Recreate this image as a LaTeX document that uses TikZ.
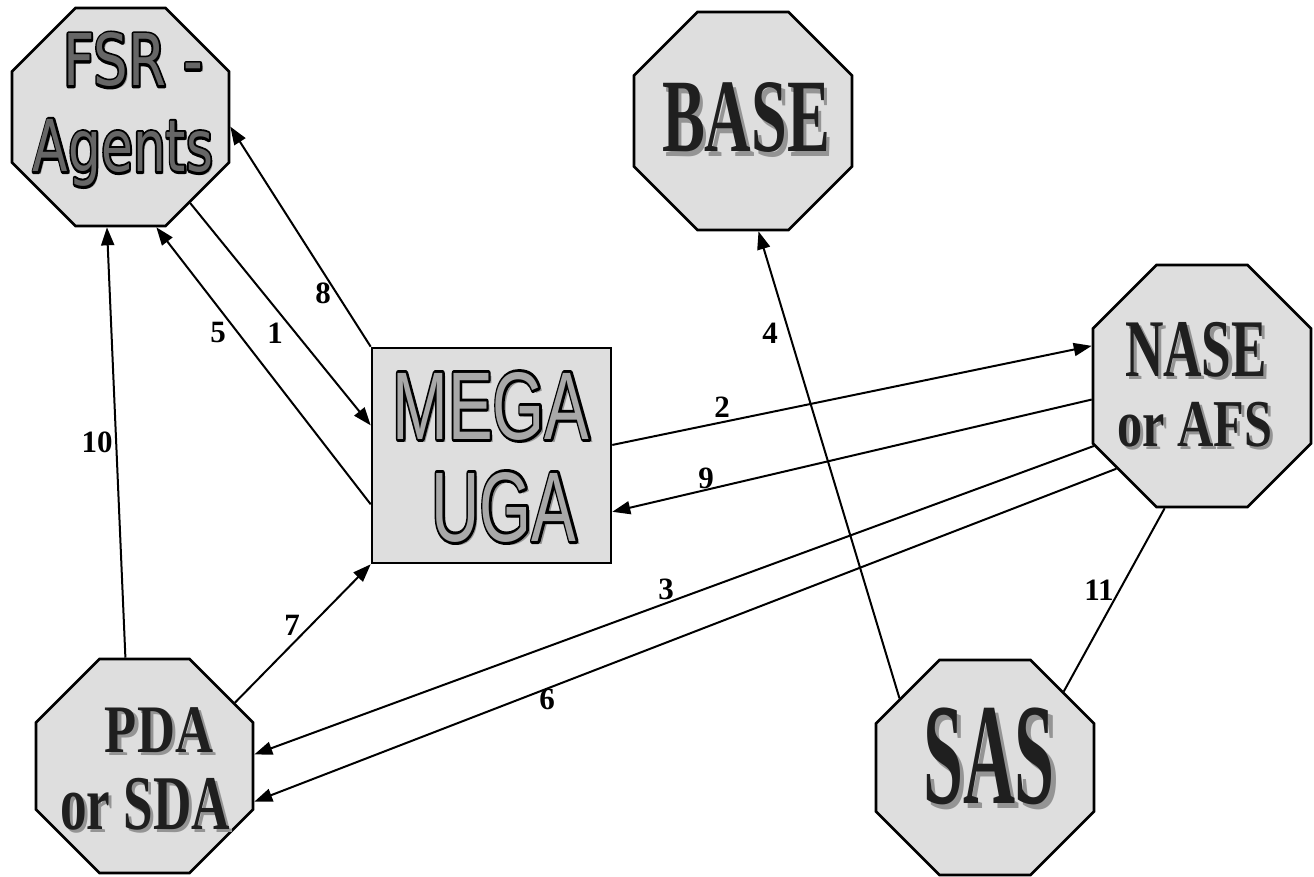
\documentclass[tikz,border=0pt]{standalone}
\usepackage{fontspec}
\setmainfont{Liberation Serif}
\newfontfamily\agentfont{DejaVu Sans}
\newfontfamily\agentheavy[FakeBold=7]{DejaVu Sans}
\newfontfamily\megafont{Liberation Sans}
\newfontfamily\megaheavy[FakeBold=6]{Liberation Sans}
\usepackage{graphicx}
\usetikzlibrary{shapes.misc,arrows.meta}

\definecolor{panel}{gray}{0.87}
\definecolor{dropgray}{gray}{0.58}
\definecolor{letterfill}{gray}{0.66}
\definecolor{agentfill}{gray}{0.4}
\definecolor{inkfill}{gray}{0.12}

% round joins for the stroked (emboldened) letter outlines
\newcommand{\roundjoins}{\special{pdf:literal direct 1 j}}
% serif caption: dark letters with a grey drop shadow
\newcommand{\serifword}[1]{\rlap{\smash{\kern0.06em\raisebox{-0.04em}{\textcolor{dropgray}{#1}}}}\textcolor{inkfill}{#1}}
% outlined caption: #1 emboldened face drawn in black under #2 regular face
% filled with colour #3, plus a drop shadow
\newcommand{\outlineword}[4]{\roundjoins\rlap{\smash{\kern0.05em\raisebox{-0.04em}{#2\textcolor{dropgray}{#4}}}}\rlap{#1\textcolor{black}{#4}}{#2\textcolor{#3}{#4}}}

\tikzset{
  % octagon: the 45-degree cuts pass through the inner box corners;
  % half extent = inner sep + chamfer sep
  octagon/.style 2 args={chamfered rectangle, chamfered rectangle xsep=31.75pt,
    chamfered rectangle ysep=31.75pt, inner xsep=#1, inner ysep=#2,
    minimum width=0pt, minimum height=0pt, draw, line width=2.6pt, fill=panel},
  ugabox/.style={rectangle, draw, line width=2.6pt, fill=panel,
    minimum width=239pt, minimum height=215pt, inner sep=0pt},
  wordart/.style={inner sep=0pt, outer sep=0pt, font=\fontsize{60}{60}\selectfont},
  link/.style={line width=2pt, -{Triangle[length=18pt,width=13pt]}},
  plainlink/.style={line width=2pt},
  num/.style={font=\fontsize{31}{31}\selectfont\bfseries, inner sep=0pt},
}

\begin{document}
\begin{tikzpicture}[x=1pt,y=-1pt]
\useasboundingbox (0,0) rectangle (1314,877);

% ---- shapes ----
\node[octagon={76.75pt}{77.25pt}] (fsr)  at (120.5,117) {};
\node[octagon={77.25pt}{77.25pt}] (base) at (743,121) {};
\node[octagon={77.25pt}{89.25pt}] (nase) at (1202,386) {};
\node[octagon={76.75pt}{75.25pt}] (pda)  at (144.5,766) {};
\node[octagon={77.25pt}{75.75pt}] (sas)  at (985,767.5) {};
\node[ugabox] (mega) at (491.5,455.5) {};

% ---- captions ----
\node[wordart] (fsr-a) at (133,60)  {\resizebox*{140pt}{54pt}{\outlineword{\agentheavy}{\agentfont}{agentfill}{FSR -}}};
\node[wordart] (fsr-b) at (123,153) {\resizebox*{180pt}{67pt}{\outlineword{\agentheavy}{\agentfont}{agentfill}{Agents}}};
\node[wordart] (base-a) at (746,118) {\bfseries\resizebox*{168pt}{70pt}{\serifword{BASE}}};
\node[wordart] (nase-a) at (1196,350) {\bfseries\resizebox*{142pt}{55pt}{\serifword{NASE}}};
\node[wordart] (nase-b) at (1195,425) {\bfseries\resizebox*{155pt}{45pt}{\serifword{or AFS}}};
\node[wordart] (pda-a) at (159,730) {\bfseries\resizebox*{108pt}{45pt}{\serifword{PDA}}};
\node[wordart] (pda-b) at (145,804) {\bfseries\resizebox*{170pt}{52pt}{\serifword{or SDA}}};
\node[wordart] (sas-a) at (989,756) {\bfseries\resizebox*{132pt}{97pt}{\serifword{SAS}}};
\node[wordart] (mega-a) at (491,406) {\resizebox*{197pt}{68pt}{\outlineword{\megaheavy}{\megafont}{letterfill}{MEGA}}};
\node[wordart] (mega-b) at (504,507) {\resizebox*{145pt}{70pt}{\outlineword{\megaheavy}{\megafont}{letterfill}{UGA}}};

% ---- connectors ----
\draw[link] (fsr.-51.9) -- (mega.166.6);
\draw[link] (mega.-158.3) -- (fsr.-72.9);
\draw[link] (mega.north west) -- (fsr.-5.2);
\draw[link] (pda.100.3) -- (fsr.-97.1);
\draw[link] (pda.35.4) -- (mega.south west);
\draw[link] (mega.5.9) -- (nase.160.8);
\draw[link] (nase.-173.7) -- (mega.-25.9);
\draw[link] (nase.-151.6) -- (pda.6.8);
\draw[link] (nase.-136) -- (pda.-18.4);
\draw[link] (sas.141.5) -- (base.-82.7);
\draw[plainlink] (nase.-107.9) -- (sas.44.5);

% ---- connector numbers ----
\node[num] (n1)  at (275,333) {1};
\node[num] (n2)  at (722,407) {2};
\node[num] (n3)  at (666,589) {3};
\node[num] (n4)  at (770,333) {4};
\node[num] (n5)  at (218,333) {5};
\node[num] (n6)  at (547,699) {6};
\node[num] (n7)  at (292,625) {7};
\node[num] (n8)  at (323,293) {8};
\node[num] (n9)  at (706,478) {9};
\node[num] (n10) at (97,442)  {10};
\node[num] (n11) at (1099,590) {11};
\end{tikzpicture}
\end{document}
